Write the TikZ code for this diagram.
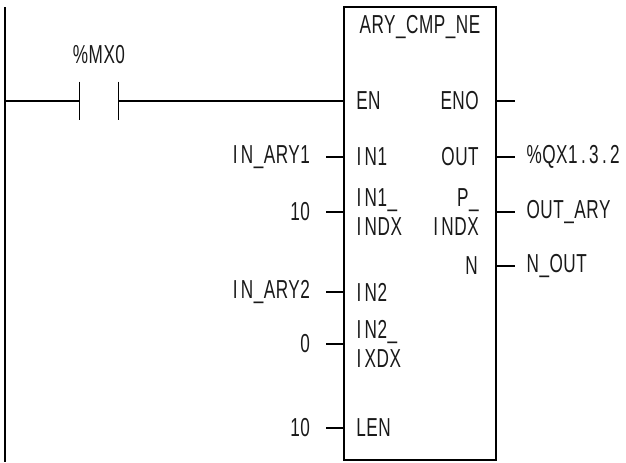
\documentclass[tikz,border=0pt]{standalone}
\usepackage{fontspec}
\setmainfont[FakeStretch=0.66,LetterSpace=2]{Liberation Sans}
\usetikzlibrary{positioning}
\newcommand{\wI}{\kern2.5pt I\kern2.5pt}
\newcommand{\wdot}{\kern2.5pt.\kern2.5pt}
\begin{document}
\begin{tikzpicture}[
    x=0.75pt, y=-0.75pt,
    wire/.style={line width=0.95pt, black},
    contactbar/.style={line width=1.1pt, black},
    lbl/.style={font=\fontsize{19.5}{21.75}\selectfont, inner sep=0pt, text=black!90},
    block/.style={rectangle, draw=black, line width=1.2pt, minimum width=114pt,
                  minimum height=339.75pt, inner sep=0pt},
    contact/.style={rectangle, minimum width=28.5pt, minimum height=28.5pt, inner sep=0pt},
    pinin/.style={lbl, anchor=west, align=left},
    pinout/.style={lbl, anchor=east, align=right},
    valin/.style={lbl, anchor=east, inner sep=0pt, outer sep=0pt, xshift=-12pt},
    valout/.style={lbl, anchor=west, xshift=8.5pt}
  ]
    \useasboundingbox (0,0) rectangle (626,462);
    \coordinate (railtop) at (5,7);
    \coordinate (railbot) at (5,462);
    \draw[wire, line width=1.2pt] (railtop) -- (railbot);

    \node[block] (fb) at (420,233.5) {};
    \node[lbl] (title) at (420,27) {ARY\_CMP\_NE};

    \node[contact] (mx) at (99,101) {};
    \node[lbl, above=13pt of mx] (mxlbl) {\%MX0};
    \draw[contactbar] (mx.north west) -- (mx.south west);
    \draw[contactbar] (mx.north east) -- (mx.south east);
    \draw[wire] (railtop |- mx) -- (mx.west);
    \draw[wire] (mx.east) -- (fb.west |- mx);

    \node[pinin]  (en)   at (356,101) {EN};
    \node[pinin]  (ina)  at (353,157) {\wI N1};
    \node[pinin]  (inax) at (353,212) {\wI N1\_\\\wI NDX};
    \node[pinin]  (inb)  at (353,292) {\wI N2};
    \node[pinin]  (inbx) at (353,344) {\wI N2\_\\\wI XDX};
    \node[pinin]  (len)  at (356,428) {LEN};

    \node[pinout] (eno)  at (479,101) {ENO};
    \node[pinout] (out)  at (479,157) {OUT};
    \node[pinout] (pidx) at (479,212) {P\_\\\wI NDX};
    \node[pinout] (nout) at (478,266) {N};

    \coordinate (ena) at (515,101);
    \coordinate (ina0) at (326,157);
    \coordinate (inax0) at (326,212);
    \coordinate (inb0) at (326,292);
    \coordinate (inbx0) at (326,344);
    \coordinate (len0) at (326,428);
    \coordinate (out0) at (515,157);
    \coordinate (pidx0) at (515,212);
    \coordinate (nout0) at (515,266);

    \node[valin] (inaval)  at (ina0)  {\wI N\_ARY1};
    \node[valin] (inaxval) at (inax0) {10};
    \node[valin] (inbval)  at (inb0)  {\wI N\_ARY2};
    \node[valin] (inbxval) at (inbx0) {0};
    \node[valin] (lenval)  at (len0)  {10};
    \node[valout] (outval)  at (out0)  {\%QX1\wdot 3\wdot 2};
    \node[valout] (pidxval) at (pidx0) {OUT\_ARY};
    \node[valout] (noutval) at (nout0) {N\_OUT};

    \draw[wire] (ina0) -- (fb.west |- ina0);
    \draw[wire] (inax0) -- (fb.west |- inax0);
    \draw[wire] (inb0) -- (fb.west |- inb0);
    \draw[wire] (inbx0) -- (fb.west |- inbx0);
    \draw[wire] (len0) -- (fb.west |- len0);
    \draw[wire] (fb.east |- ena) -- (ena);
    \draw[wire] (fb.east |- out0) -- (out0);
    \draw[wire] (fb.east |- pidx0) -- (pidx0);
    \draw[wire] (fb.east |- nout0) -- (nout0);
  \end{tikzpicture}
\end{document}
